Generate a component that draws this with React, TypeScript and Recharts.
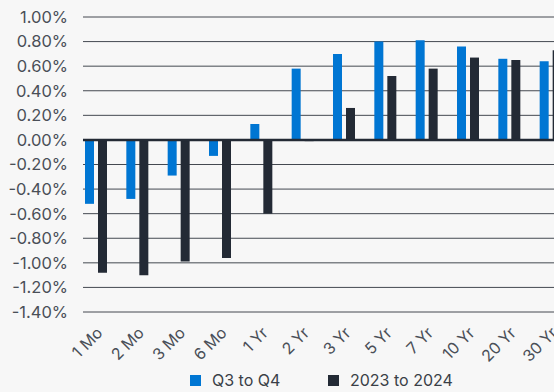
import { BarChart, Bar, XAxis, YAxis, CartesianGrid, ReferenceLine, Legend } from "recharts";

const tenors = ["1 Mo", "2 Mo", "3 Mo", "6 Mo", "1 Yr", "2 Yr", "3 Yr", "5 Yr", "7 Yr", "10 Yr", "20 Yr", "30 Yr"];
const q3ToQ4 = [-0.52, -0.48, -0.29, -0.13, 0.13, 0.58, 0.7, 0.8, 0.81, 0.76, 0.66, 0.64];
const y2023To2024 = [-1.08, -1.1, -0.99, -0.96, -0.6, -0.01, 0.26, 0.52, 0.58, 0.67, 0.65, 0.73];
const yTicks = [1.0, 0.8, 0.6, 0.4, 0.2, 0, -0.2, -0.4, -0.6, -0.8, -1.0, -1.2, -1.4];

const BLUE = "#0076d3";
const DARK = "#232a35";
const TEXT = "#4a4f57";
const FONT = "Inter, 'Noto Sans', sans-serif";

const data = tenors.map((t, i) => ({ tenor: t, q3: q3ToQ4[i], yoy: y2023To2024[i] }));

function XTick({ x, y, payload }: any) {
  const ty = y + 22;
  return (
    <text
      x={x}
      y={ty}
      transform={`rotate(-45 ${x} ${ty})`}
      textAnchor="end"
      fill={TEXT}
      fontSize={16}
      fontFamily={FONT}
    >
      {payload.value}
    </text>
  );
}

function LegendBox() {
  const item = (color: string, label: string, width?: number) => (
    <div style={{ display: "flex", alignItems: "center", width }}>
      <span style={{ width: 11, height: 11, background: color, marginRight: 11 }} />
      <span>{label}</span>
    </div>
  );
  return (
    <div style={{ display: "flex", height: 24, alignItems: "flex-end", fontSize: 16, fontFamily: FONT, color: "#3a3f47" }}>
      {item(BLUE, "Q3 to Q4", 138)}
      {item(DARK, "2023 to 2024")}
    </div>
  );
}

export default function App() {
  return (
    <div style={{ position: "fixed", inset: 0, background: "#f7f7f7", overflow: "hidden" }}>
      <BarChart
        width={600}
        height={392}
        data={data}
        margin={{ top: 17, right: 21, bottom: 0, left: 0 }}
        barGap={4}
      >
        <CartesianGrid vertical={false} stroke="#444951" />
        <XAxis
          dataKey="tenor"
          axisLine={false}
          tickLine={false}
          tickSize={0}
          tickMargin={0}
          height={56}
          interval={0}
          tick={<XTick />}
        />
        <YAxis
          domain={[-1.4, 1.0]}
          ticks={yTicks}
          interval={0}
          width={83}
          axisLine={false}
          tickLine={false}
          tickSize={0}
          tickMargin={15}
          tickFormatter={(v: number) => `${v.toFixed(2)}%`}
          tick={{ fill: TEXT, fontSize: 16.5, fontFamily: FONT }}
        />
        <Legend
          verticalAlign="bottom"
          content={<LegendBox />}
          wrapperStyle={{ left: 190, width: "auto", bottom: 2 }}
        />
        <Bar dataKey="q3" name="Q3 to Q4" fill={BLUE} barSize={9} isAnimationActive={false} />
        <Bar dataKey="yoy" name="2023 to 2024" fill={DARK} barSize={9} isAnimationActive={false} />
        <Bar dataKey="pad" legendType="none" fill="none" barSize={12} isAnimationActive={false} />
        <ReferenceLine y={0} stroke={DARK} strokeWidth={2.5} />
      </BarChart>
    </div>
  );
}
